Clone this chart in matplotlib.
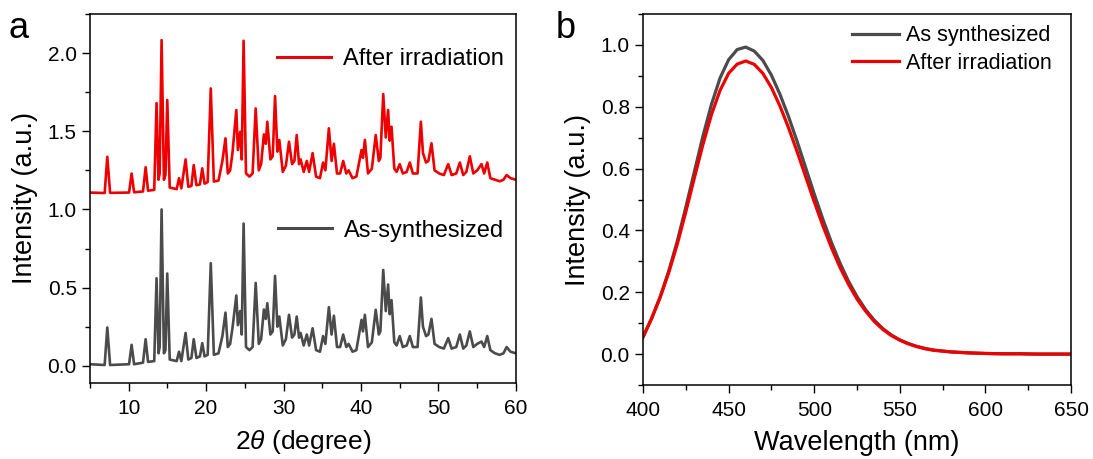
import numpy as np
import matplotlib
matplotlib.use('Agg')
import matplotlib.pyplot as plt
from matplotlib.ticker import MultipleLocator

plt.rcParams['font.family'] = ['Liberation Sans', 'DejaVu Sans']
plt.rcParams['mathtext.fontset'] = 'custom'
plt.rcParams['mathtext.rm'] = 'Liberation Sans'
plt.rcParams['mathtext.it'] = 'Liberation Sans:italic'

# XRD pattern (2theta, intensity)
xrd_2theta = [5.0, 6.9, 7.24, 7.6, 10.05, 10.38,
              10.7, 11.85, 12.19, 12.5, 13.3, 13.6,
              13.85, 14.0, 14.25, 14.55, 14.75, 14.98,
              15.3, 16.2, 16.5, 16.8, 17.35, 17.7,
              18.1, 18.4, 18.75, 19.2, 19.5, 19.8,
              20.2, 20.6, 21.0, 21.6, 22.1, 22.5,
              22.8, 23.1, 23.4, 23.9, 24.1, 24.4,
              24.6, 24.84, 25.15, 25.6, 26.0, 26.4,
              26.8, 27.1, 27.46, 27.7, 27.9, 28.3,
              28.6, 28.9, 29.2, 29.45, 29.9, 30.3,
              30.7, 31.1, 31.4, 31.7, 32.0, 32.2,
              32.6, 33.0, 33.3, 33.75, 34.2, 34.7,
              35.1, 35.4, 35.85, 36.2, 36.5, 36.9,
              37.3, 37.7, 38.1, 38.4, 38.9, 39.4,
              40.07, 40.25, 40.5, 40.9, 41.4, 41.9,
              42.3, 42.5, 42.87, 43.2, 43.5, 43.7,
              43.94, 44.3, 44.6, 45.0, 45.4, 45.9,
              46.3, 46.7, 47.3, 47.73, 48.0, 48.4,
              48.7, 49.1, 49.5, 50.1, 50.7, 51.26,
              51.7, 52.3, 52.76, 53.2, 53.6, 54.05,
              54.5, 55.0, 55.56, 55.9, 56.3, 56.7,
              57.3, 57.9, 58.4, 58.8, 59.3, 60.0]

xrd_as_synth = [0.010, 0.005, 0.245, 0.005, 0.010, 0.134,
                0.010, 0.020, 0.170, 0.025, 0.030, 0.560,
                0.080, 0.120, 1.000, 0.080, 0.100, 0.590,
                0.040, 0.030, 0.090, 0.030, 0.210, 0.040,
                0.050, 0.170, 0.050, 0.060, 0.145, 0.060,
                0.070, 0.656, 0.070, 0.080, 0.190, 0.340,
                0.120, 0.140, 0.240, 0.450, 0.260, 0.350,
                0.200, 0.910, 0.120, 0.100, 0.120, 0.530,
                0.140, 0.170, 0.360, 0.300, 0.400, 0.200,
                0.220, 0.575, 0.250, 0.315, 0.130, 0.170,
                0.326, 0.180, 0.200, 0.315, 0.180, 0.210,
                0.130, 0.200, 0.130, 0.240, 0.100, 0.090,
                0.190, 0.140, 0.375, 0.200, 0.320, 0.120,
                0.120, 0.200, 0.120, 0.140, 0.090, 0.100,
                0.294, 0.220, 0.326, 0.120, 0.150, 0.358,
                0.200, 0.220, 0.613, 0.350, 0.520, 0.330,
                0.420, 0.150, 0.130, 0.190, 0.120, 0.130,
                0.190, 0.120, 0.120, 0.437, 0.250, 0.190,
                0.200, 0.300, 0.140, 0.120, 0.110, 0.177,
                0.110, 0.120, 0.200, 0.110, 0.130, 0.220,
                0.120, 0.140, 0.155, 0.120, 0.190, 0.100,
                0.080, 0.070, 0.080, 0.120, 0.090, 0.080]

xrd_irradiated = [1.108, 1.105, 1.337, 1.106, 1.108, 1.230,
                  1.110, 1.115, 1.270, 1.120, 1.125, 1.680,
                  1.190, 1.230, 2.083, 1.190, 1.220, 1.700,
                  1.140, 1.130, 1.200, 1.135, 1.320, 1.145,
                  1.150, 1.284, 1.155, 1.160, 1.263, 1.165,
                  1.175, 1.774, 1.178, 1.185, 1.310, 1.455,
                  1.230, 1.250, 1.360, 1.636, 1.380, 1.497,
                  1.320, 2.079, 1.230, 1.210, 1.230, 1.646,
                  1.250, 1.290, 1.480, 1.420, 1.561, 1.320,
                  1.340, 1.725, 1.370, 1.444, 1.240, 1.280,
                  1.433, 1.290, 1.310, 1.476, 1.290, 1.320,
                  1.240, 1.310, 1.240, 1.360, 1.210, 1.200,
                  1.300, 1.250, 1.519, 1.310, 1.420, 1.230,
                  1.230, 1.310, 1.230, 1.250, 1.200, 1.210,
                  1.380, 1.330, 1.445, 1.230, 1.260, 1.476,
                  1.310, 1.330, 1.738, 1.460, 1.636, 1.440,
                  1.529, 1.260, 1.240, 1.290, 1.230, 1.240,
                  1.300, 1.230, 1.230, 1.561, 1.360, 1.300,
                  1.310, 1.423, 1.250, 1.230, 1.220, 1.290,
                  1.220, 1.230, 1.300, 1.220, 1.240, 1.340,
                  1.230, 1.250, 1.290, 1.230, 1.300, 1.200,
                  1.190, 1.180, 1.190, 1.220, 1.200, 1.190]

# PL spectra
pl_wavelength = [400, 405, 410, 415, 420, 425, 430, 435, 440, 445,
                 450, 455, 460, 465, 470, 475, 480, 485, 490, 495,
                 500, 505, 510, 515, 520, 525, 530, 535, 540, 545,
                 550, 555, 560, 565, 570, 580, 590, 600, 610, 620,
                 630, 640, 650]
pl_as_synth = [0.055, 0.115, 0.185, 0.268, 0.365, 0.475, 0.590, 0.705, 0.808, 0.893,
               0.952, 0.985, 0.993, 0.980, 0.950, 0.902, 0.840, 0.768, 0.688, 0.603,
               0.518, 0.437, 0.362, 0.295, 0.236, 0.186, 0.144, 0.110, 0.083, 0.062,
               0.046, 0.034, 0.025, 0.018, 0.013, 0.007, 0.004, 0.002, 0.001, 0.001,
               0.0, 0.0, 0.0]
pl_irradiated = [0.055, 0.115, 0.183, 0.263, 0.355, 0.460, 0.570, 0.678, 0.775, 0.853,
                 0.908, 0.938, 0.948, 0.937, 0.908, 0.862, 0.802, 0.732, 0.655, 0.574,
                 0.493, 0.416, 0.345, 0.281, 0.226, 0.178, 0.139, 0.106, 0.080, 0.060,
                 0.045, 0.033, 0.024, 0.017, 0.012, 0.007, 0.004, 0.002, 0.001, 0.001,
                 0.0, 0.0, 0.0]

gray = '#4b4b4b'
red = '#ee0000'

fig = plt.figure(figsize=(10.93, 4.59), dpi=100)
ax1 = fig.add_axes([0.0823, 0.1656, 0.3897, 0.8039])
ax2 = fig.add_axes([0.5883, 0.1612, 0.3916, 0.8083])

# panel a
ax1.plot(xrd_2theta, xrd_irradiated, color=red, lw=1.9)
ax1.plot(xrd_2theta, xrd_as_synth, color=gray, lw=1.9)
ax1.set_xlim(5, 60)
ax1.set_ylim(-0.11, 2.25)
ax1.xaxis.set_major_locator(MultipleLocator(10))
ax1.xaxis.set_minor_locator(MultipleLocator(5))
ax1.yaxis.set_major_locator(MultipleLocator(0.5))
ax1.yaxis.set_minor_locator(MultipleLocator(0.25))
ax1.set_xlabel(r'2$\theta$ (degree)', fontsize=19, labelpad=7)
ax1.set_ylabel('Intensity (a.u.)', fontsize=19.5, labelpad=7)

h_red, = ax1.plot([], [], color=red, lw=2.2)
h_gray, = ax1.plot([], [], color=gray, lw=2.2)
leg_a1 = ax1.legend([h_red], ['After irradiation'], loc='upper right', bbox_to_anchor=(1.022, 0.965),
                    frameon=False, fontsize=17, handlelength=2.3, handletextpad=0.5)
ax1.add_artist(leg_a1)
ax1.legend([h_gray], ['As-synthesized'], loc='upper right', bbox_to_anchor=(1.022, 0.5),
           frameon=False, fontsize=17, handlelength=2.3, handletextpad=0.5)

# panel b
ax2.plot(pl_wavelength, pl_as_synth, color=gray, lw=2.3, label='As synthesized')
ax2.plot(pl_wavelength, pl_irradiated, color=red, lw=2.3, label='After irradiation')
ax2.set_xlim(400, 650)
ax2.set_ylim(-0.1, 1.1)
ax2.xaxis.set_major_locator(MultipleLocator(50))
ax2.xaxis.set_minor_locator(MultipleLocator(25))
ax2.yaxis.set_major_locator(MultipleLocator(0.2))
ax2.yaxis.set_minor_locator(MultipleLocator(0.1))
ax2.set_xlabel('Wavelength (nm)', fontsize=19.5, labelpad=7)
ax2.set_ylabel('Intensity (a.u.)', fontsize=19.5, labelpad=7)
ax2.legend(loc='upper right', bbox_to_anchor=(0.99, 1.01), frameon=False, fontsize=15.5,
           handlelength=2.2, handletextpad=0.3, labelspacing=0.3, borderaxespad=0.3)

for ax in (ax1, ax2):
    ax.tick_params(which='major', direction='out', length=6, width=1, labelsize=15,
                   top=False, right=False)
    ax.tick_params(axis='x', which='major', pad=5.5)
    ax.tick_params(which='minor', direction='out', length=3.5, width=1, top=False, right=False)
    for s in ax.spines.values():
        s.set_linewidth(1.1)

fig.text(0.008, 0.975, 'a', fontsize=26, va='top', ha='left')
fig.text(0.508, 0.975, 'b', fontsize=26, va='top', ha='left')

fig.savefig('out.png', dpi=100)
